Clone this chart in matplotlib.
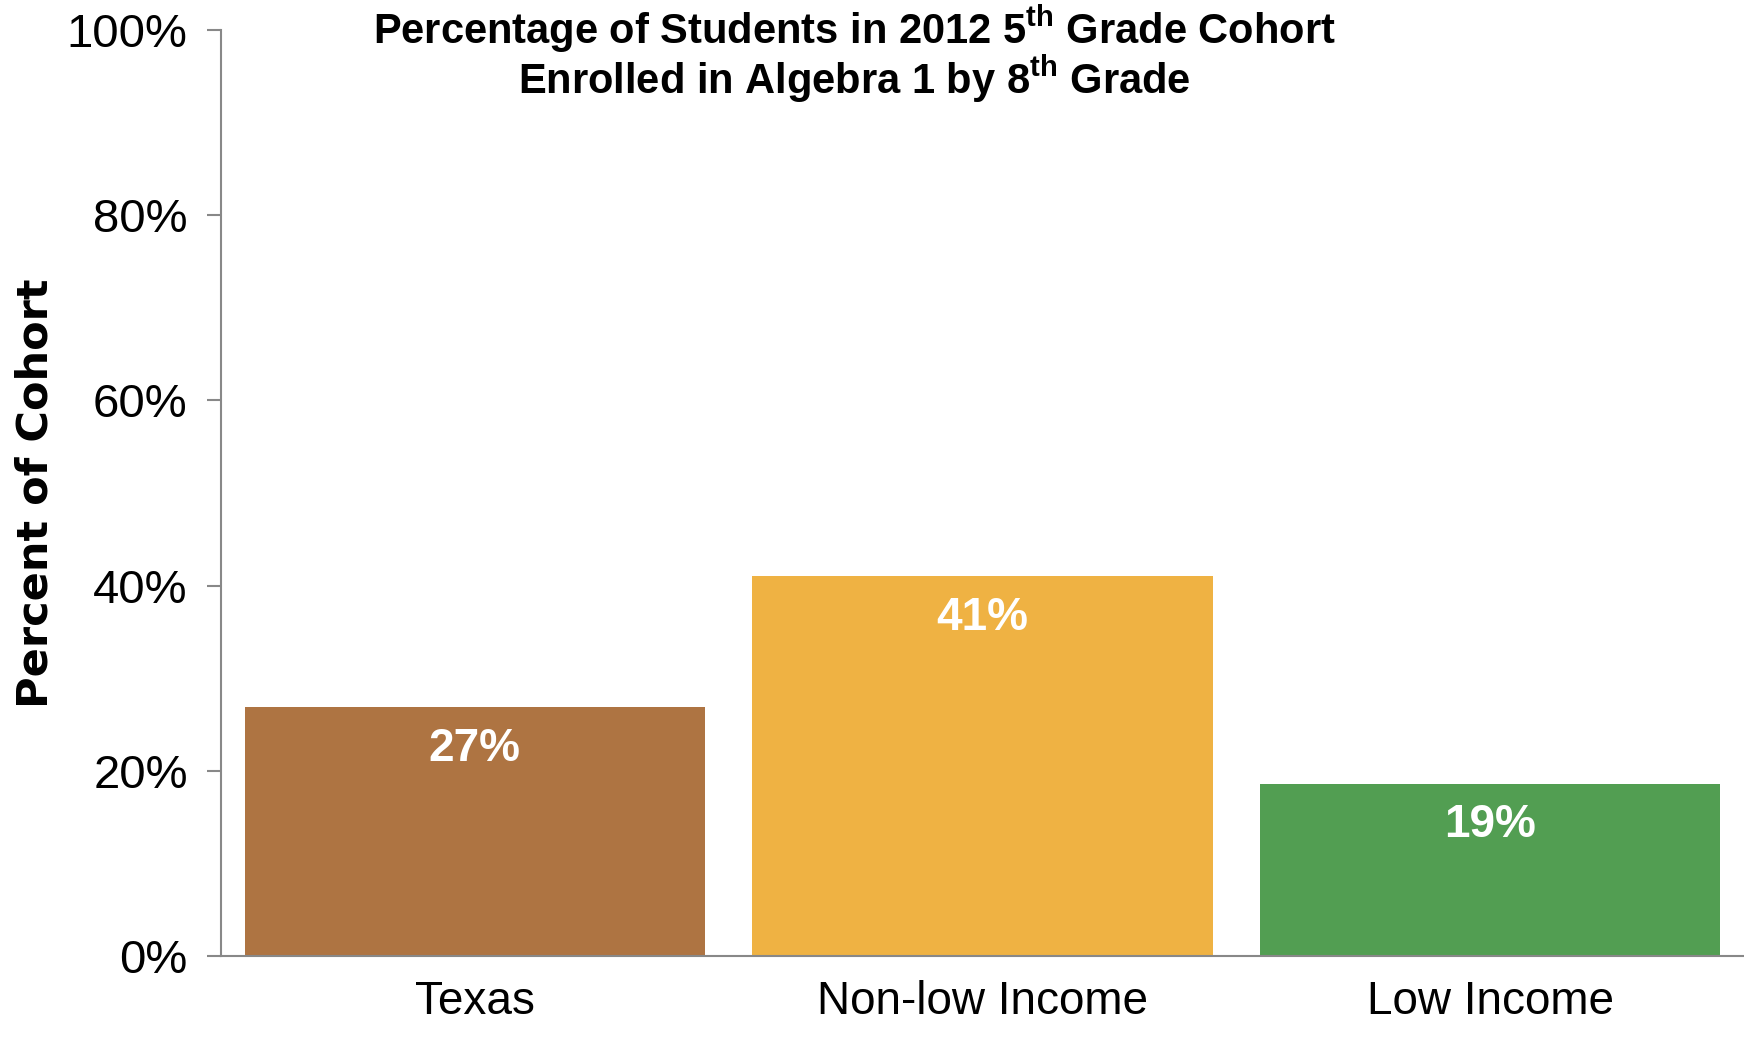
import matplotlib
matplotlib.use("Agg")
import matplotlib.pyplot as plt

# Data
categories = ["Texas", "Non-low Income", "Low Income"]
values = [26.9, 41.0, 18.6]
bar_labels = ["27%", "41%", "19%"]
bar_colors = ["#AE7442", "#EFB243", "#529E52"]
yticks = [0, 20, 40, 60, 80, 100]
ytick_labels = ["0%", "20%", "40%", "60%", "80%", "100%"]

plt.rcParams["font.family"] = ["Liberation Sans", "DejaVu Sans"]
plt.rcParams["mathtext.fontset"] = "custom"
plt.rcParams["mathtext.bf"] = "Liberation Sans:bold"
plt.rcParams["mathtext.rm"] = "Liberation Sans:bold"

fig = plt.figure(figsize=(17.44, 10.38), dpi=100)
ax = fig.add_axes([0.1267, 0.079, 0.8733, 0.892])

x = range(len(categories))
ax.bar(x, values, width=0.907, color=bar_colors)

for xi, v, lab in zip(x, values, bar_labels):
    ax.annotate(lab, (xi, v), xytext=(0, -30), textcoords="offset points",
                ha="center", va="center", color="white", fontsize=33,
                fontweight="bold")

ax.set_xlim(-0.5, 2.5)
ax.set_ylim(0, 100)
ax.set_yticks(yticks)
ax.set_yticklabels(ytick_labels, fontsize=34)
ax.set_xticks(list(x))
ax.set_xticklabels(categories, fontsize=33)
ax.tick_params(axis="x", length=0, pad=17)
ax.tick_params(axis="y", length=10, width=1.5, color="#888888", pad=14)

for side in ["top", "right"]:
    ax.spines[side].set_visible(False)
for side in ["left", "bottom"]:
    ax.spines[side].set_color("#888888")
    ax.spines[side].set_linewidth(1.5)

ax.set_ylabel("Percent of Cohort", fontsize=31, fontweight="bold",
              family="DejaVu Sans")
ax.yaxis.set_label_coords(-0.108, 0.5)

fig.text(0.49, 0.997, r"Percentage of Students in 2012 5$^{\mathbf{th}}$ Grade Cohort",
         ha="center", va="top", fontsize=30, fontweight="bold")
fig.text(0.49, 0.948, r"Enrolled in Algebra 1 by 8$^{\mathbf{th}}$ Grade",
         ha="center", va="top", fontsize=30, fontweight="bold")

fig.savefig("out.png", dpi=100)
